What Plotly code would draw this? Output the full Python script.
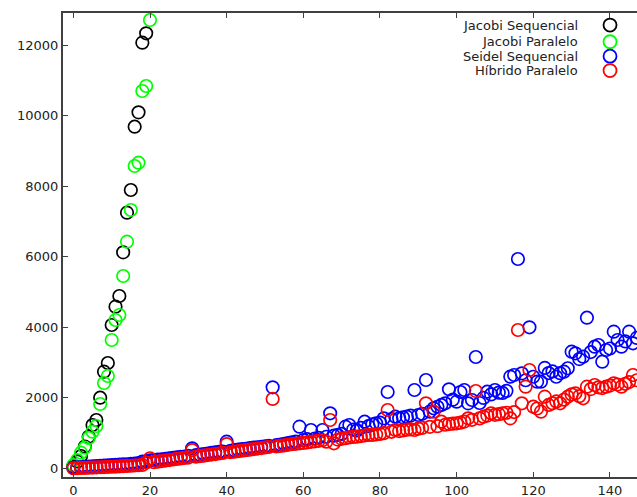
import plotly.graph_objects as go

# Jacobi series (x index 0..20)
jacobi_x_seq = list(range(0, 20))
jacobi_seq = [60, 200, 354, 620, 900, 1233, 1374, 2006, 2743, 2990,
              4066, 4585, 4888, 6126, 7249, 7892, 9685, 10093, 12066, 12332]
jacobi_x_par = list(range(0, 21))
jacobi_par = [99, 241, 448, 589, 864, 1043, 1204, 1828, 2423, 2621,
              3641, 4208, 4350, 5455, 6427, 7325, 8572, 8665, 10697, 10839, 12709]

# Seidel / Hibrido series (x index 0..147)
long_x = list(range(0, 148))
seidel_seq = [
    20, 30, 40, 50, 55, 60, 70, 75, 80, 90,
    95, 100, 110, 115, 120, 130, 140, 150, 193, 200,
    230, 240, 250, 260, 270, 285, 300, 315, 330, 340,
    360, 572, 380, 395, 410, 425, 440, 455, 470, 480,
    760, 500, 520, 535, 550, 560, 575, 590, 600, 615,
    630, 640, 2300, 660, 680, 700, 720, 740, 760, 1185,
    808, 830, 1091, 850, 870, 1091, 900, 1564, 930, 950,
    980, 1185, 1233, 1100, 1080, 1150, 1326, 1200, 1250, 1280,
    1300, 1422, 2168, 1400, 1468, 1420, 1450, 1468, 1500, 2224,
    1516, 1550, 2508, 1610, 1706, 1750, 1800, 1848, 2244, 1950,
    1893, 2168, 2224, 1847, 1941, 3160, 1856, 2000, 2176, 2100,
    2224, 2150, 2140, 2200, 2602, 2650, 5937, 2697, 2500, 4001,
    2600, 2460, 2460, 2850, 2705, 2750, 2600, 2700, 2743, 2840,
    3310, 3264, 3100, 3168, 4273, 3300, 3451, 3500, 3026, 3358,
    3400, 3877, 3641, 3451, 3600, 3877, 3548, 3700,
]
hibrido_par = [
    5, 10, 15, 18, 22, 26, 30, 35, 40, 45,
    50, 55, 60, 66, 72, 78, 85, 92, 100, 170,
    290, 180, 195, 210, 225, 240, 255, 270, 285, 300,
    310, 520, 335, 350, 365, 380, 395, 410, 425, 440,
    690, 460, 475, 490, 505, 520, 535, 550, 565, 580,
    595, 610, 1970, 625, 640, 655, 670, 690, 700, 714,
    725, 740, 755, 770, 785, 800, 760, 1374, 714, 820,
    840, 860, 880, 895, 901, 920, 935, 950, 949, 965,
    980, 1000, 1657, 1040, 1091, 1060, 1080, 1100, 1110, 1091,
    1130, 1150, 1848, 1180, 1610, 1200, 1326, 1240, 1260, 1270,
    1281, 1300, 1330, 1422, 1380, 2196, 1420, 1468, 1500, 1564,
    1520, 1540, 1564, 1580, 1422, 1600, 3924, 1848, 2318, 2791,
    1751, 1700, 1610, 2035, 1800, 1848, 1900, 1848, 1950, 2035,
    2100, 2130, 2050, 1989, 2318, 2250, 2366, 2300, 2280, 2318,
    2350, 2414, 2380, 2318, 2400, 2450, 2650, 2500,
]

names = ["Jacobi Sequencial", "Jacobi Paralelo", "Seidel Sequencial", "Híbrido Paralelo"]
colors = ["#000000", "#00ff00", "#0000ff", "#ff0000"]
xs = [jacobi_x_seq, jacobi_x_par, long_x, long_x]
ys = [jacobi_seq, jacobi_par, seidel_seq, hibrido_par]

x_ticks = [0, 20, 40, 60, 80, 100, 120, 140]
y_ticks = [0, 2000, 4000, 6000, 8000, 10000, 12000]

fig = go.Figure()
for n, c, x, y in zip(names, colors, xs, ys):
    fig.add_trace(go.Scatter(
        x=x, y=y, mode="markers", name=n, showlegend=False,
        marker=dict(symbol="circle-open", size=12.5, color=c,
                    line=dict(width=1.7, color=c)),
    ))

font = dict(family="DejaVu Sans", size=13, color="#222222")
axis_color = "#404040"

# custom gnuplot-style key: right-aligned text, sample symbol on the right
key_rows = [0.974, 0.938, 0.907, 0.876]
for n, c, yy in zip(names, colors, key_rows):
    fig.add_annotation(xref="paper", yref="paper", x=0.9007, y=yy,
                       text=n, showarrow=False, xanchor="right", yanchor="middle",
                       font=font)
    fig.add_shape(type="circle", xref="paper", yref="paper",
                  xsizemode="pixel", ysizemode="pixel",
                  xanchor=0.953, yanchor=yy, x0=-6.5, x1=6.5, y0=-6.5, y1=6.5,
                  line=dict(color=c, width=1.8))

fig.update_layout(
    width=637, height=497,
    margin=dict(l=63, r=0, t=13, b=20),
    paper_bgcolor="white", plot_bgcolor="white",
    font=font,
    showlegend=False,
    xaxis=dict(range=[-2.7, 147.06], tickvals=x_ticks, ticks="inside", ticklen=5,
               tickcolor=axis_color, tickwidth=1.2,
               showline=True, linecolor=axis_color, linewidth=2, mirror="ticks",
               showgrid=False, zeroline=False, tickfont=font),
    yaxis=dict(range=[-241, 12907], tickvals=y_ticks, tickformat="d",
               ticks="inside", ticklen=5,
               tickcolor=axis_color, tickwidth=1.2,
               showline=True, linecolor=axis_color, linewidth=2, mirror=False,
               showgrid=False, zeroline=False, tickfont=font),
)

fig.write_html("out.html",
               config={"displayModeBar": False},
               post_script="document.body.style.margin='0';document.body.style.overflow='hidden';")
